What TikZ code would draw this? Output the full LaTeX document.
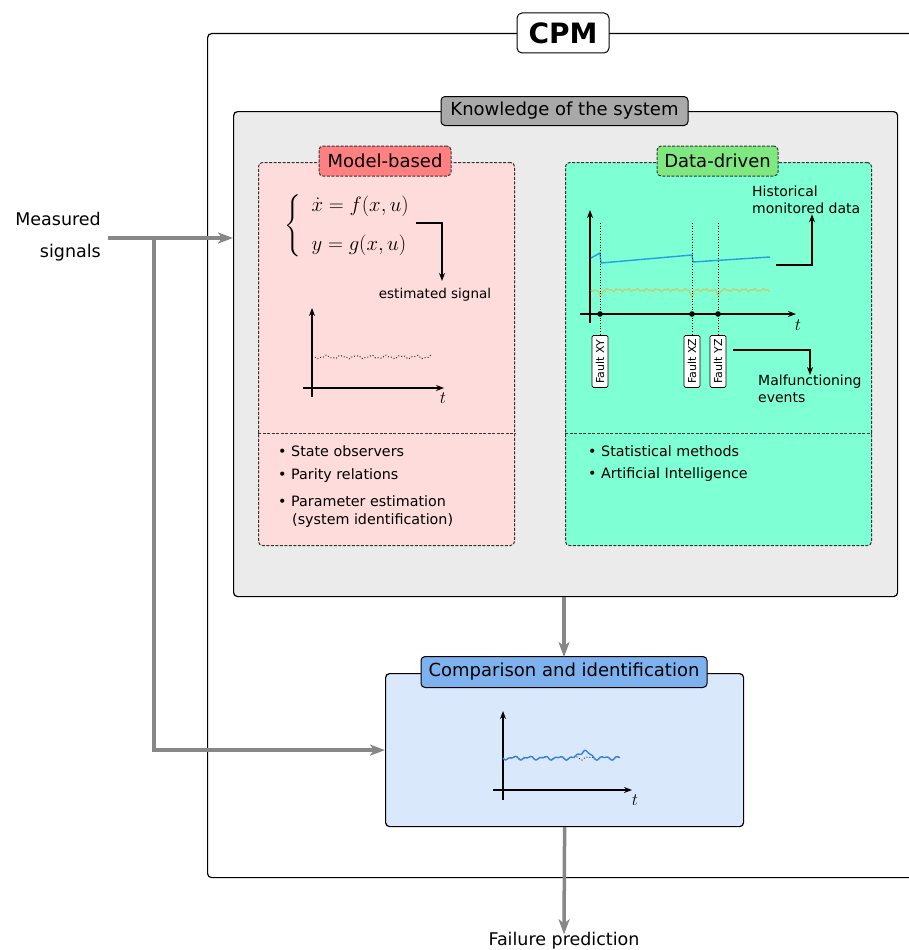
\documentclass[tikz,border=0pt]{standalone}
\usepackage{fontspec}
\setmainfont{DejaVu Sans}
\usepackage{amsmath}
\usetikzlibrary{arrows.meta}
\definecolor{arrgray}{HTML}{878787}
\definecolor{knowfill}{HTML}{EBEBEB}
\definecolor{knowlbl}{HTML}{A9A9A9}
\definecolor{modfill}{HTML}{FFDCDC}
\definecolor{modlbl}{HTML}{FF8080}
\definecolor{datfill}{HTML}{7FFFD4}
\definecolor{datlbl}{HTML}{80E880}
\definecolor{compfill}{HTML}{DAE8FC}
\definecolor{complbl}{HTML}{7EB2EE}
\definecolor{dashc}{HTML}{333333}
\definecolor{sigblue}{HTML}{22A0E4}
\definecolor{sigyel}{HTML}{BDD27A}
\definecolor{cmpblue}{HTML}{3A80E0}
\begin{document}
\begin{tikzpicture}[x=1pt,y=-1pt,
  box/.style={draw=black, line width=1.2pt, rounded corners=4pt, inner sep=0pt, anchor=north west},
  dbox/.style={draw=dashc, line width=1pt, dash pattern=on 3pt off 1.5pt, rounded corners=4pt, inner sep=0pt, anchor=north west},
  lbl/.style={draw=black, line width=1pt, rounded corners=4pt, inner sep=0pt, font=\fontsize{18}{22}\selectfont},
  dlbl/.style={draw=dashc, line width=1pt, dash pattern=on 3pt off 1.5pt, rounded corners=4pt, inner sep=0pt, font=\fontsize{18}{22}\selectfont},
  garrow/.style={draw=arrgray, line width=3.5pt, -{Stealth[length=15pt,width=11pt,inset=4pt]}},
  barrow/.style={draw=black, line width=1.2pt, -{Stealth[length=8pt,width=6pt]}},
  axis/.style={draw=black, line width=1.2pt, -{Stealth[length=8pt,width=6pt]}},
  ann/.style={inner sep=0pt, font=\fontsize{14}{17}\selectfont, align=left},
  bul/.style={inner sep=0pt, anchor=west, font=\fontsize{14.3}{17}\selectfont},
  fault/.style={draw=black, fill=white, line width=0.8pt, rounded corners=1.5pt, inner sep=0pt, rotate=90, anchor=east, minimum width=52pt, minimum height=16pt, font=\fontsize{11}{13}\selectfont},
  tlab/.style={inner sep=0pt, font=\fontsize{17}{20}\selectfont}
]
\useasboundingbox (0,0) rectangle (909,950);

% CPM outer box
\node[box, minimum width=760pt, minimum height=844pt] (cpm) at (207,33) {};
\node[lbl, fill=white, rounded corners=5pt, minimum width=92pt, minimum height=40pt, font=\fontsize{28}{32}\bfseries] (cpml) at (563,33) {CPM};

% Knowledge box
\node[box, fill=knowfill, minimum width=664pt, minimum height=485pt] (know) at (233,111) {};
\node[lbl, fill=knowlbl, minimum width=247pt, minimum height=29pt] (knowl) at (564.5,111) {Knowledge of the system};

% Model-based box
\node[dbox, fill=modfill, minimum width=256pt, minimum height=383pt] (model) at (258,162) {};
\node[dlbl, fill=modlbl, minimum width=132pt, minimum height=30pt] (modell) at (385,161) {Model-based};
\draw[draw=dashc, line width=1pt, dash pattern=on 3pt off 1.5pt] (model.west |- 0,433) -- (model.east |- 0,433);

% Data-driven box
\node[dbox, fill=datfill, minimum width=306pt, minimum height=383pt] (data) at (565,162) {};
\node[dlbl, fill=datlbl, minimum width=121pt, minimum height=30pt] (datal) at (717.5,161) {Data-driven};
\draw[draw=dashc, line width=1pt, dash pattern=on 3pt off 1.5pt] (data.west |- 0,433) -- (data.east |- 0,433);

% Comparison box
\node[box, fill=compfill, minimum width=358pt, minimum height=153pt] (comp) at (385,673) {};
\node[lbl, fill=complbl, minimum width=286pt, minimum height=31pt] (compl) at (564,672) {Comparison and identification};

% Measured signals & arrows
\node[inner sep=0pt, align=right, font=\fontsize{17.5}{32}\selectfont, anchor=east] (meas) at (101,237) {Measured\\signals};
\coordinate (ms) at (108,238);
\coordinate (split) at (154,238);
\draw[garrow] (ms) -- (know.west |- ms);
\draw[garrow] (split) |- (comp.west);
\draw[garrow] (know.south -| compl.north) -- ([yshift=-1pt]compl.north);
\node[inner sep=0pt, font=\fontsize{17.5}{21}\selectfont] (fail) at (564,941) {Failure prediction};
\draw[garrow] (comp.south) -- ([yshift=-2pt]fail.north);

% Model-based content
\node[inner sep=0pt, anchor=west, font=\fontsize{21}{25}\selectfont] (eqn) at (284,226)
  {$\left\{\;\begin{array}{l}\dot{x} = f(x,u)\\[14pt] y = g(x,u)\end{array}\right.$};
\coordinate (ea) at (416,223);
\node[inner sep=0pt, font=\fontsize{13.5}{16}\selectfont] (est) at (435,295) {estimated signal};
\coordinate (eb) at (442,281);
\draw[barrow] (ea) -| (eb);
\draw[axis] (312,397) -- (312,308);
\draw[axis] (303,388) -- (444,388);
\node[tlab] (mt) at (443,398) {$t$};
\draw[draw=dashc, line width=1pt, dotted] plot[domain=0:116, samples=90] (315+\x, {357+1.3*sin(24*\x)+0.7*sin(55*\x)});

\node[bul] (b1) at (278,451) {• State observers};
\node[bul] (b2) at (278,476) {• Parity relations};
\node[bul] (b3) at (278,501) {• Parameter estimation};
\node[bul] (b4) at (292,521) {(system identification)};

% Data-driven content
\draw[axis] (590,323) -- (590,210);
\draw[axis] (580,314) -- (796,314);
\node[tlab] (dt) at (798,325) {$t$};
\draw[sigblue, line width=1.4pt] (591,258) -- (600,253) -- (601,263) -- (692,255) -- (693,262) -- (770,257);
\draw[sigyel, line width=1.4pt] plot[domain=0:179, samples=240]
  (591+\x, {290+0.9*sin(37*\x)+0.7*sin(83*\x)
        +6*max(0,1-abs(\x-9)/3.5)+6*max(0,1-abs(\x-101)/3.5)+5*max(0,1-abs(\x-127)/3.5)});
\node[fault] (fxy) at (600,335) {Fault XY};
\node[fault] (fxz) at (692,335) {Fault XZ};
\node[fault] (fyz) at (718,335) {Fault YZ};
\foreach \n/\xx in {fxy/600, fxz/692, fyz/718}{
  \draw[black, line width=0.7pt, dotted] (\xx,223) -- (\n.east);
  \fill (\xx,314) circle (2.8pt);
}
\node[ann, anchor=north west] (hist) at (752,186) {Historical\\monitored data};
\draw[barrow] (776,265) -| (hist.south -| 812,0);
\node[ann, anchor=north west] (mal) at (758,375) {Malfunctioning\\events};
\draw[barrow] (733,350) -| (mal.north -| 810,0);

\node[bul] (d1) at (588,451) {• Statistical methods};
\node[bul] (d2) at (588,475) {• Artificial Intelligence};

% Comparison content
\draw[axis] (503,800) -- (503,711);
\draw[axis] (493,790) -- (632,790);
\node[tlab] (ct) at (635,800) {$t$};
\draw[draw=dashc, line width=1pt, dotted] plot[domain=0:117, samples=90] (503+\x, {758+1.3*sin(24*\x)+0.8*sin(47*\x)});
\draw[cmpblue, line width=1.4pt] plot[domain=0:117, samples=120] (503+\x, {758+1.3*sin(24*\x)+0.8*sin(47*\x)-8*max(0,1-abs(\x-81)/10)});
\end{tikzpicture}
\end{document}
